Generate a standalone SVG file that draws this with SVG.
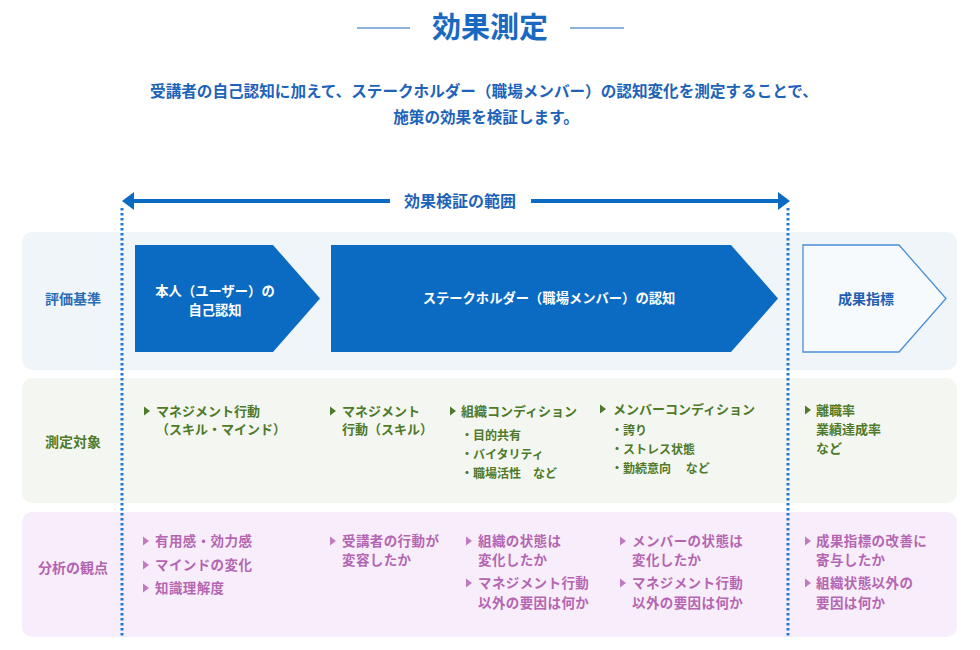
<svg xmlns="http://www.w3.org/2000/svg" width="980" height="650" viewBox="0 0 980 650">
<defs>
<style>
text{font-family:"Noto Sans CJK JP","Noto Sans",sans-serif;font-weight:700}
.title{font-size:29px;fill:#1a69c0;text-anchor:middle}
.sub{font-size:15.6px;fill:#1d63b8;text-anchor:middle}
.range{font-size:16px;fill:#1d63b8;text-anchor:middle}
.lbl1{font-size:14px;fill:#2c6db5;text-anchor:middle}
.lbl2{font-size:14px;fill:#4e7a2a;text-anchor:middle}
.lbl3{font-size:14px;fill:#b264b0;text-anchor:middle}
.wt{font-size:13.3px;fill:#ffffff;text-anchor:middle}
.bt{font-size:14px;fill:#1e5fb2;text-anchor:middle}
.g{font-size:13px;fill:#4e7a2a}
.gs{font-size:12px;fill:#4e7a2a}
.p{font-size:13.5px;fill:#b466b2;letter-spacing:0.4px}
.dot{stroke:#1f7ad6;stroke-width:3;stroke-dasharray:2.5 2.5;fill:none}
</style>
<polygon id="tg" points="0,-4.5 6,0 0,4.5" fill="#4e7a2a"/>
<polygon id="tp" points="0,-4.5 6,0 0,4.5" fill="#c07ac0"/>
</defs>
<rect width="980" height="650" fill="#ffffff"/>

<g id="header">
<line x1="357" y1="28" x2="410" y2="28" stroke="#1a69c0" stroke-width="1.2"/>
<line x1="570" y1="28" x2="624" y2="28" stroke="#1a69c0" stroke-width="1.2"/>
<text class="title" x="490" y="38">効果測定</text>
<text class="sub" x="484" y="97">受講者の自己認知に加えて、ステークホルダー（職場メンバー）の認知変化を測定することで、</text>
<text class="sub" x="486" y="123">施策の効果を検証します。</text>
</g>

<g id="bands">
<rect x="22" y="232" width="935" height="138" rx="10" fill="#f0f5f9"/>
<rect x="22" y="378" width="935" height="125" rx="10" fill="#f4f7f1"/>
<rect x="22" y="512" width="935" height="125" rx="10" fill="#f8eefb"/>
<text class="lbl1" x="73" y="304">評価基準</text>
<text class="lbl2" x="73" y="447">測定対象</text>
<text class="lbl3" x="73" y="573">分析の観点</text>
</g>

<g id="connectors">
<line x1="133" y1="201" x2="390" y2="201" stroke="#0b6bc3" stroke-width="4"/>
<line x1="531" y1="201" x2="779" y2="201" stroke="#0b6bc3" stroke-width="4"/>
<polygon points="122,201 134,192 134,210" fill="#0b6bc3"/>
<polygon points="790,201 778,192 778,210" fill="#0b6bc3"/>
<text class="range" x="460" y="207">効果検証の範囲</text>
<line class="dot" x1="122" y1="208" x2="122" y2="638"/>
<line class="dot" x1="788" y1="208" x2="788" y2="638"/>
</g>

<g id="node-self">
<polygon points="135,245 273,245 320,298.5 273,352 135,352" fill="#0b6bc3"/>
<text class="wt" x="215" y="296">本人（ユーザー）の</text>
<text class="wt" x="215" y="315">自己認知</text>
</g>

<g id="node-stakeholder">
<polygon points="331,245 731,245 778,298.5 731,352 331,352" fill="#0b6bc3"/>
<text class="wt" x="549" y="303">ステークホルダー（職場メンバー）の認知</text>
</g>

<g id="node-result">
<polygon points="803,245 899,245 946,298.5 899,352 803,352" fill="#f7fafd" stroke="#4a8fd6" stroke-width="1.3"/>
<text class="bt" x="866" y="304">成果指標</text>
</g>

<g id="targets">
<use href="#tg" x="144" y="411"/>
<text class="g" x="156" y="416">マネジメント行動</text>
<text class="g" x="156" y="434">（スキル・マインド）</text>

<use href="#tg" x="330" y="411"/>
<text class="g" x="342" y="416">マネジメント</text>
<text class="g" x="342" y="434">行動（スキル）</text>

<use href="#tg" x="450" y="411"/>
<text class="g" x="461" y="416">組織コンディション</text>
<text class="gs" x="461" y="440">・目的共有</text>
<text class="gs" x="461" y="459">・バイタリティ</text>
<text class="gs" x="461" y="478">・職場活性　など</text>

<use href="#tg" x="600" y="409"/>
<text class="g" x="613" y="414">メンバーコンディション</text>
<text class="gs" x="611" y="435">・誇り</text>
<text class="gs" x="611" y="454">・ストレス状態</text>
<text class="gs" x="611" y="473">・勤続意向　  など</text>

<use href="#tg" x="805" y="410"/>
<text class="g" x="816" y="415">離職率</text>
<text class="g" x="816" y="434">業績達成率</text>
<text class="g" x="816" y="453">など</text>
</g>

<g id="viewpoints">
<use href="#tp" x="143" y="541"/>
<text class="p" x="155" y="546">有用感・効力感</text>
<use href="#tp" x="143" y="565"/>
<text class="p" x="155" y="570">マインドの変化</text>
<use href="#tp" x="143" y="588"/>
<text class="p" x="155" y="593">知識理解度</text>

<use href="#tp" x="330" y="541"/>
<text class="p" x="342" y="546">受講者の行動が</text>
<text class="p" x="342" y="565">変容したか</text>

<use href="#tp" x="466" y="541"/>
<text class="p" x="478" y="546">組織の状態は</text>
<text class="p" x="478" y="565">変化したか</text>
<use href="#tp" x="466" y="583"/>
<text class="p" x="478" y="588">マネジメント行動</text>
<text class="p" x="478" y="608">以外の要因は何か</text>

<use href="#tp" x="620" y="541"/>
<text class="p" x="632" y="546">メンバーの状態は</text>
<text class="p" x="632" y="565">変化したか</text>
<use href="#tp" x="620" y="583"/>
<text class="p" x="632" y="588">マネジメント行動</text>
<text class="p" x="632" y="608">以外の要因は何か</text>

<use href="#tp" x="805" y="541"/>
<text class="p" x="816" y="546">成果指標の改善に</text>
<text class="p" x="816" y="565">寄与したか</text>
<use href="#tp" x="805" y="583"/>
<text class="p" x="816" y="588">組織状態以外の</text>
<text class="p" x="816" y="608">要因は何か</text>
</g>
</svg>
